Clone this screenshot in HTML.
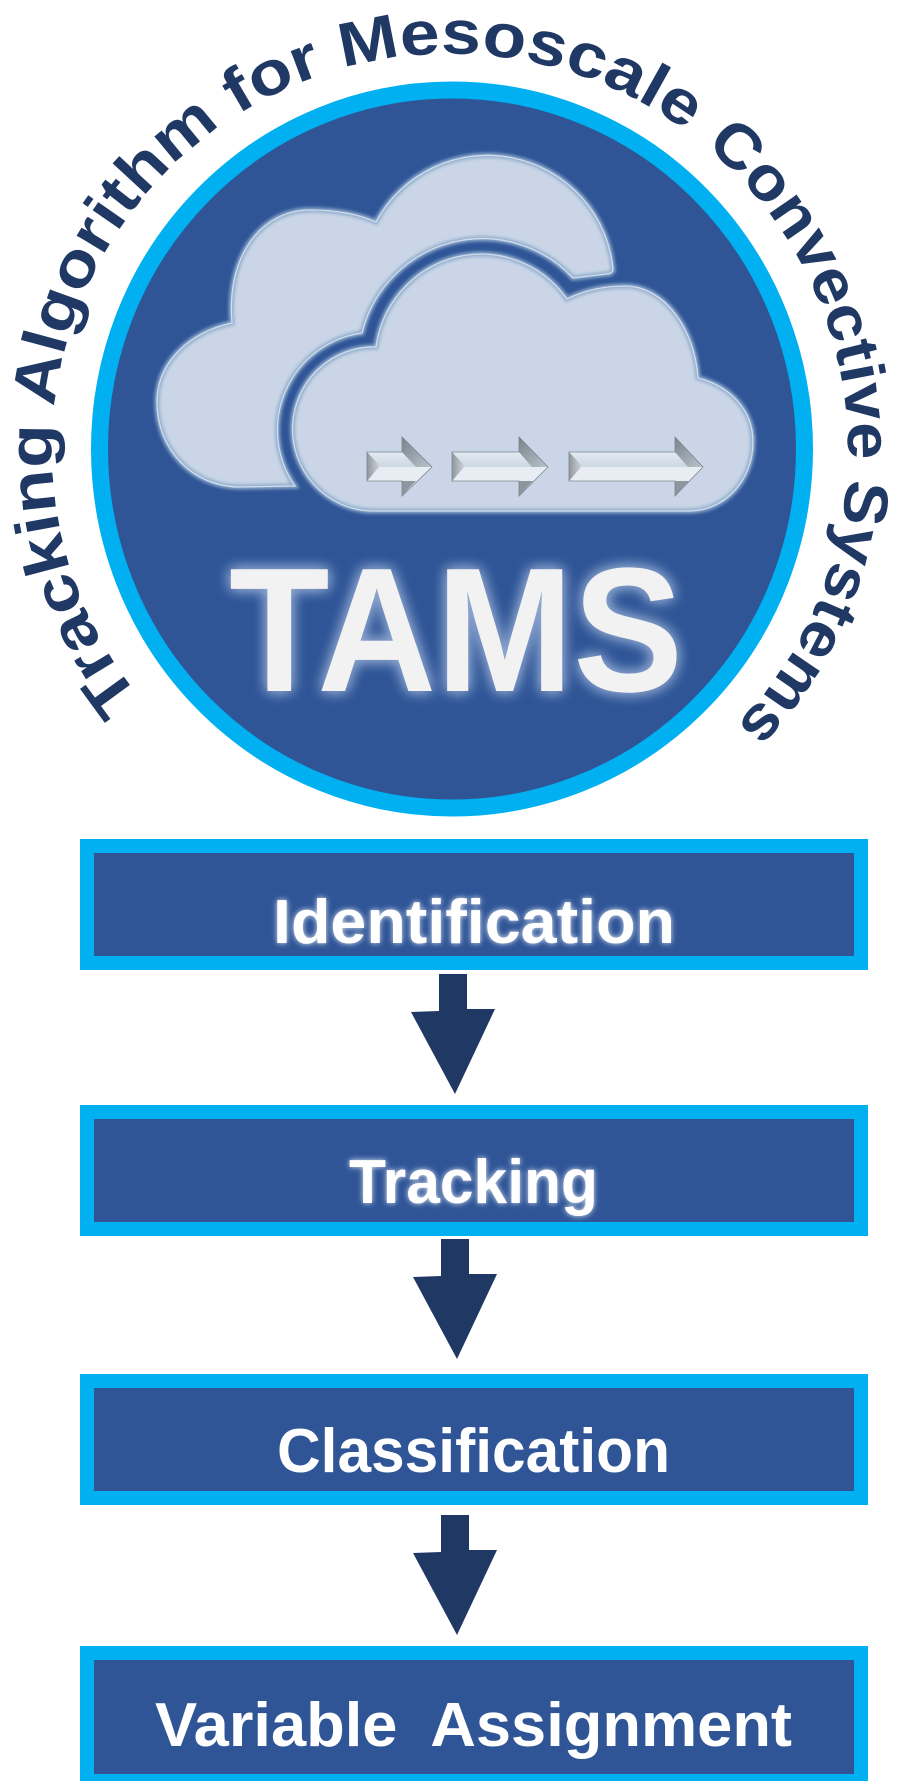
<!DOCTYPE html>
<html lang="en"><head><meta charset="utf-8"><title>TAMS</title>
<style>
html,body{margin:0;padding:0;background:#fff}
svg{display:block}
text{font-family:"Liberation Sans",sans-serif;font-weight:bold}
</style></head><body>
<svg xmlns="http://www.w3.org/2000/svg" width="908" height="1781" viewBox="0 0 908 1781">
<defs>
<filter id="glow" x="-20%" y="-30%" width="140%" height="160%"><feGaussianBlur in="SourceAlpha" stdDeviation="7" result="b"/><feFlood flood-color="#8fa8d0" flood-opacity="1"/><feComposite in2="b" operator="in" result="c"/><feMerge><feMergeNode in="c"/><feMergeNode in="c"/><feMergeNode in="SourceGraphic"/></feMerge></filter>
<filter id="glow2" x="-20%" y="-30%" width="140%" height="160%"><feGaussianBlur in="SourceAlpha" stdDeviation="2.800" result="b"/><feFlood flood-color="#dfe7f3" flood-opacity="1"/><feComposite in2="b" operator="in" result="c"/><feMerge><feMergeNode in="c"/><feMergeNode in="SourceGraphic"/></feMerge></filter>
<filter id="soft" x="-5%" y="-5%" width="110%" height="110%"><feGaussianBlur stdDeviation="1.500"/></filter>
<linearGradient id="gTop" x1="0" y1="0" x2="0" y2="1"><stop offset="0" stop-color="#c9d5e1"/><stop offset="0.5" stop-color="#e3eaf2"/><stop offset="1" stop-color="#ccd7e2"/></linearGradient>
<linearGradient id="gHead" x1="0" y1="0" x2="1" y2="1"><stop offset="0" stop-color="#78838b"/><stop offset="1" stop-color="#b9c3ca"/></linearGradient>
<linearGradient id="gLeft" x1="0" y1="0" x2="1" y2="0"><stop offset="0" stop-color="#8f979e"/><stop offset="1" stop-color="#d0d6db"/></linearGradient>
<path id="arc" d="M 140 698 A 398 396 0 1 1 650 792"/>
<path id="cb" d="M295 486 L240 487 C193 487 157 450 157 402 C157 362 190 332 232 323 C226 255 262 210 310 210 C335 210 358 214 376 222 A126 125 0 0 1 613 270 Q612 274 606 274 L573 278 A124 124 0 0 0 362 333 A98 98 0 0 0 295 486 Z"/>
<path id="cf" d="M371 511 L689 511 C725 511 753 480 753 442 C753 410 730 386 698 378 C695 330 665 286 625 286 C605 286 585 290 567 299 A106 108 0 0 0 376 347 A81 82 0 0 0 371 511 Z"/>
</defs>
<rect width="908" height="1781" fill="#fff"/>

<ellipse cx="452" cy="449" rx="352.500" ry="359" fill="#2F5597" stroke="#00B0F0" stroke-width="17"/>

<text font-size="62" fill="#1F3864"><textPath href="#arc" textLength="1145" lengthAdjust="spacingAndGlyphs">Tracking Algorithm for Mesoscale</textPath></text>
<text font-size="62" fill="#1F3864"><textPath href="#arc" startOffset="1168" textLength="652" lengthAdjust="spacingAndGlyphs">Convective Systems</textPath></text>

<!-- clouds -->
<use href="#cb" fill="#CAD6E7"/>
<use href="#cf" fill="#CAD6E7"/>
<g fill="none" filter="url(#soft)">
<use href="#cb" stroke="#8faccd" stroke-width="5"/>
<use href="#cf" stroke="#8faccd" stroke-width="5"/>
</g>
<g fill="none" stroke="#d9e3ef" stroke-width="1.300" opacity=".9">
<use href="#cb"/><use href="#cf"/>
</g>

<!-- bevel arrows -->
<g>
<polygon points="367,452 402,452 402,437 432,467 402,496 402,481 367,481" fill="#e8edf3"/>
<polygon points="367,452 402,452 402,437 432,467 380,467 367,452" fill="url(#gTop)"/>
<polygon points="367,452 380,466 367,481" fill="url(#gLeft)"/>
<polygon points="402,437 432,467 416,467 402,452" fill="url(#gHead)"/>
<polygon points="402,481 402,496 410,487 416,481" fill="#8e969d"/>
<polygon points="367,452 402,452 402,437 432,467 402,496 402,481 367,481" fill="none" stroke="#7d858c" stroke-width="0.800"/>
</g>
<g>
<polygon points="452,452 519,452 519,437 548,467 519,496 519,481 452,481" fill="#e8edf3"/>
<polygon points="452,452 519,452 519,437 548,467 465,467" fill="url(#gTop)"/>
<polygon points="452,452 465,466 452,481" fill="url(#gLeft)"/>
<polygon points="519,437 548,467 532,467 519,452" fill="url(#gHead)"/>
<polygon points="519,481 519,496 527,487 533,481" fill="#8e969d"/>
<polygon points="452,452 519,452 519,437 548,467 519,496 519,481 452,481" fill="none" stroke="#7d858c" stroke-width="0.800"/>
</g>
<g>
<polygon points="569,452 675,452 675,437 703,467 675,496 675,481 569,481" fill="#e8edf3"/>
<polygon points="569,452 675,452 675,437 703,467 582,467" fill="url(#gTop)"/>
<polygon points="569,452 582,466 569,481" fill="url(#gLeft)"/>
<polygon points="675,437 703,467 688,467 675,452" fill="url(#gHead)"/>
<polygon points="675,481 675,496 683,487 689,481" fill="#8e969d"/>
<polygon points="569,452 675,452 675,437 703,467 675,496 675,481 569,481" fill="none" stroke="#7d858c" stroke-width="0.800"/>
</g>

<text x="229" y="691" font-size="177" fill="#F2F2F2" textLength="454" lengthAdjust="spacingAndGlyphs" filter="url(#glow)">TAMS</text>

<!-- boxes -->
<g fill="#2F5597" stroke="#00B0F0" stroke-width="14">
<rect x="87" y="846" width="774" height="117"/>
<rect x="87" y="1112" width="774" height="117"/>
<rect x="87" y="1381" width="774" height="117"/>
<rect x="87" y="1653" width="774" height="128"/>
</g>

<g fill="#fff" font-size="62">
<text x="273" y="943" textLength="402" lengthAdjust="spacingAndGlyphs" filter="url(#glow2)">Identification</text>
<text x="349" y="1203" textLength="249" lengthAdjust="spacingAndGlyphs" filter="url(#glow2)">Tracking</text>
<text x="277" y="1472" textLength="393" lengthAdjust="spacingAndGlyphs">Classification</text>
<text x="155" y="1746" textLength="637" lengthAdjust="spacingAndGlyphs" xml:space="preserve">Variable  Assignment</text>
</g>

<!-- down arrows -->
<g fill="#1F3864">
<polygon points="439,974 467,974 467,1009 495,1009 455,1094 411,1012 439,1011"/>
<polygon points="441,1239 469,1239 469,1274 497,1274 457,1359 413,1277 441,1276"/>
<polygon points="441,1515 469,1515 469,1550 497,1550 457,1635 413,1553 441,1552"/>
</g>
</svg>
</body></html>
